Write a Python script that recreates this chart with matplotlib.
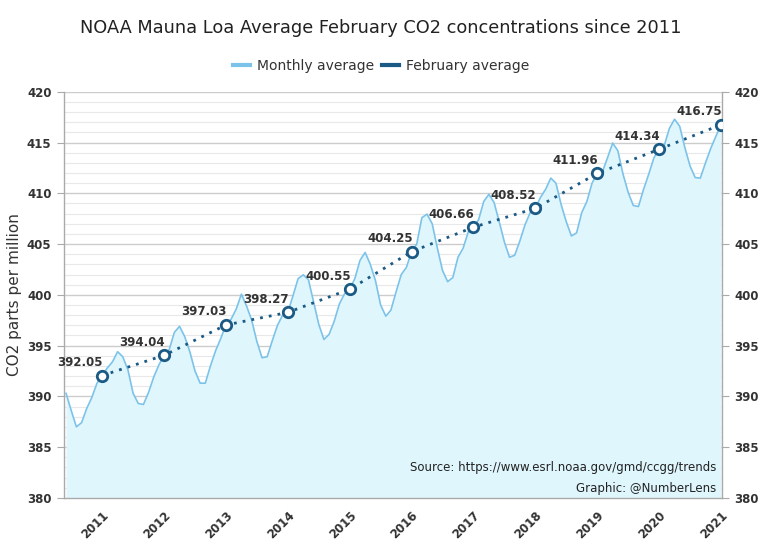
import matplotlib
matplotlib.use("Agg")
import matplotlib.pyplot as plt
from matplotlib.ticker import MultipleLocator
from matplotlib.lines import Line2D

# Monthly averages Jul 2010 .. Feb 2021
monthly = [
    390.3, 388.6, 387.0, 387.4, 388.8, 389.9,
    391.3, 392.05, 392.8, 393.4, 394.4, 393.9, 392.6, 390.3, 389.3, 389.2, 390.4, 391.9,
    393.1, 394.04, 394.6, 396.3, 396.9, 395.9, 394.4, 392.5, 391.3, 391.3, 393.0, 394.5,
    395.7, 397.03, 397.6, 398.6, 400.07, 398.9, 397.5, 395.4, 393.8, 393.9, 395.5, 397.0,
    398.0, 398.27, 399.9, 401.6, 401.97, 401.5, 399.3, 397.1, 395.6, 396.1, 397.4, 399.1,
    400.1, 400.55, 401.6, 403.4, 404.17, 403.0, 401.4, 399.0, 397.9, 398.5, 400.3, 402.0,
    402.7, 404.25, 405.0, 407.6, 407.95, 407.0, 404.6, 402.4, 401.3, 401.7, 403.7, 404.6,
    406.2, 406.66, 407.4, 409.2, 409.9, 409.1, 407.2, 405.2, 403.7, 403.9, 405.3, 406.9,
    408.1, 408.52, 409.6, 410.4, 411.5, 411.0, 408.9, 407.2, 405.8, 406.1, 408.1, 409.2,
    411.0, 411.96, 412.1, 413.5, 414.95, 414.2, 411.9, 410.1, 408.8, 408.7, 410.4, 411.9,
    413.5, 414.34, 414.7, 416.4, 417.3, 416.6, 414.5, 412.7, 411.55, 411.5, 413.0, 414.4,
    415.6, 416.75,
]
years = [2011, 2012, 2013, 2014, 2015, 2016, 2017, 2018, 2019, 2020, 2021]
feb_avg = [392.05, 394.04, 397.03, 398.27, 400.55, 404.25, 406.66, 408.52, 411.96, 414.34, 416.75]
first_feb_index = 7  # Feb 2011 is the 8th month after Jul 2010

line_color = "#7cc3ea"
fill_color = "#e0f6fd"
feb_color = "#1a5a85"
text_color = "#333333"

fig = plt.figure(figsize=(7.62, 5.40), dpi=100)
ax = fig.add_axes([0.084, 0.078, 0.8635, 0.752])

xm = list(range(len(monthly)))
ax.fill_between(xm, monthly, 380, color=fill_color, lw=0, zorder=1)
ax.plot(xm, monthly, color=line_color, lw=1.2, zorder=3)

xf = [first_feb_index + 12 * i for i in range(len(years))]
ax.plot(xf, feb_avg, color=feb_color, lw=2, ls=(0, (1, 2.2)), zorder=4)
ax.plot(xf, feb_avg, ls="none", marker="o", ms=7.5, mfc="white", mec=feb_color, mew=2, zorder=5)
for x, v in zip(xf, feb_avg):
    ax.annotate(f"{v:.2f}", (x, v), xytext=(1, 13), textcoords="offset pixels",
                ha="right", va="center", fontsize=8.5, fontweight="bold", color=text_color, zorder=6)

ax.set_ylim(380, 420)
ax.set_xlim(-0.4, len(monthly) - 0.8)
ax.yaxis.set_major_locator(MultipleLocator(5))
ax.yaxis.set_minor_locator(MultipleLocator(1))
ax.grid(which="major", axis="y", color="#cccccc", lw=1, zorder=0)
ax.grid(which="minor", axis="y", color="#e8e8e8", lw=0.8, zorder=0)
ax.set_axisbelow(True)

ax.set_xticks(xf)
ax.set_xticklabels([str(y) for y in years], rotation=45, ha="right", rotation_mode="anchor",
                   fontsize=8.5, fontweight="bold", color=text_color)
ax.tick_params(axis="x", length=0, pad=8)
ax.tick_params(axis="y", which="major", length=5, color="#aaaaaa", labelsize=8.5,
               labelcolor=text_color, left=True, right=True, labelleft=True, labelright=True, pad=4)
ax.tick_params(axis="y", which="minor", length=0)
for lab in ax.get_yticklabels():
    lab.set_fontweight("bold")
for side in ["left", "right", "bottom"]:
    ax.spines[side].set_color("#aaaaaa")
    ax.spines[side].set_linewidth(1)
ax.spines["top"].set_visible(False)

ax.set_ylabel("CO2 parts per million", fontsize=11, color=text_color)
ax.yaxis.set_label_coords(-0.064, 0.5)

fig.text(0.5, 0.948, "NOAA Mauna Loa Average February CO2 concentrations since 2011",
         ha="center", va="center", fontsize=12.8, color="#222222")

handles = [Line2D([], [], color=line_color, lw=3), Line2D([], [], color=feb_color, lw=3)]
fig.legend(handles, ["Monthly average", "February average"], loc="center",
           bbox_to_anchor=(0.5, 0.878), ncol=2, frameon=False, fontsize=10,
           handlelength=1.2, handletextpad=0.5, columnspacing=0.6, labelcolor=text_color)

ax.text(0.992, 0.076, "Source: https://www.esrl.noaa.gov/gmd/ccgg/trends", transform=ax.transAxes,
        ha="right", va="center", fontsize=8.5, color="#222222", zorder=6)
ax.text(0.992, 0.022, "Graphic: @NumberLens", transform=ax.transAxes,
        ha="right", va="center", fontsize=8.5, color="#222222", zorder=6)

fig.savefig("out.png", dpi=100)
